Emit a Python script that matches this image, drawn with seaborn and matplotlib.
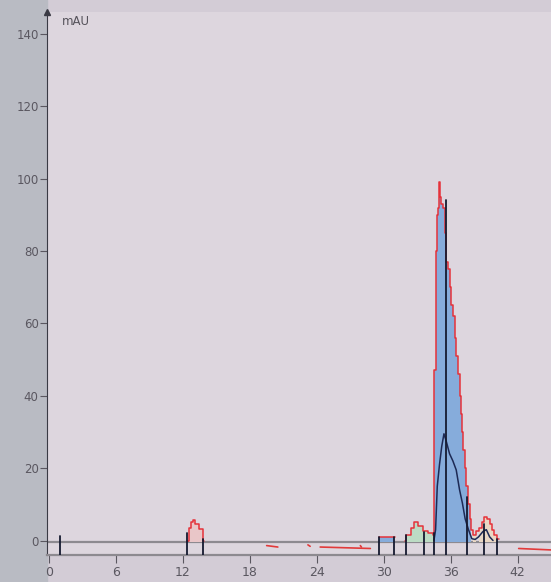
import numpy as np
import pandas as pd
import seaborn as sns
from matplotlib import pyplot as plt

# red trace (channel 1), stepped; NaN = no trace drawn
red_t = [12.4, 12.5, 12.7, 12.9, 13.1, 13.4, 13.8, 13.9,
         29.6, 30.9, 31.0,
         31.9, 32.0, 32.4, 32.7, 33.1, 33.5, 34.0, 34.4,
         34.55, 34.65, 34.75, 34.85, 34.95, 35.05, 35.15, 35.3, 35.45, 35.6,
         35.75, 35.9, 36.05, 36.2, 36.35, 36.5, 36.65, 36.8, 36.95, 37.05,
         37.15, 37.3, 37.4, 37.55, 37.7, 37.85, 38.0, 38.3, 38.5, 38.8,
         39.0, 39.3, 39.5, 39.7, 39.9, 40.2, 40.3]
red_v = [0, 3.5, 5.0, 5.8, 4.5, 3.2, 0, np.nan,
         1.0, 1.0, np.nan,
         0, 1.5, 3.5, 5.0, 4.0, 2.6, 2.0, 1.6,
         47, 80, 90, 92, 99, 95, 93, 92, 85, 77,
         75, 70, 65, 62, 56, 51, 46, 40, 35, 30,
         25, 20, 15, 10, 6, 3, 1.5, 2.5, 3.5, 5.0,
         6.6, 6.0, 4.5, 3.0, 1.5, 0.3, np.nan]

# dark trace (channel 2)
dark_t = [34.5, 34.65, 34.8, 35.0, 35.2, 35.4, 35.6, 35.9, 36.2, 36.5, 36.8,
          37.05, 37.3, 37.6, 37.9, 38.2, 38.5, 38.9, 39.2, 39.5, 39.8]
dark_v = [0, 3, 15, 21, 26, 29.5, 27.5, 24, 22, 19.5, 14,
          10.4, 6, 3, 0.5, 0.3, 1.0, 2.5, 3.0, 1.0, 0]

# integration windows (start, end, fill colour)
win_start = [12.5, 29.6, 32.0, 34.55, 37.9, 38.4]
win_end = [13.8, 30.9, 34.55, 37.9, 38.4, 40.2]
win_color = ['#e9c6c8', '#86acdb', '#bcdcc4', '#86acdb', '#ead8c4', '#ead8c4']

# peak markers
mark_t = [1.0, 12.4, 13.8, 29.6, 30.9, 32.0, 33.6, 34.55, 35.6, 37.5, 39.0, 40.2]
mark_top = [1.2, 2.0, 0.5, 1.0, 1.0, 1.5, 2.4, 2.0, 94, 12, 4.5, 0.5]

# red baseline fragments below zero
seg_t0 = [19.5, 23.2, 24.3, 27.9, 42.1]
seg_t1 = [20.5, 23.4, 28.8, 28.0, 45.0]
seg_v = [-1.8, -1.6, -2.2, -1.8, -2.6]

xticks = [0, 6, 12, 18, 24, 30, 36, 42]
yticks = [0, 20, 40, 60, 80, 100, 120, 140]

sns.set_style('white')
plt.rcParams['font.family'] = ['DejaVu Sans']

fig = plt.figure(figsize=(5.51, 5.82), dpi=100, facecolor='#d3ccd6')
fig.patches.append(plt.Rectangle((0, 0), 0.085, 1, transform=fig.transFigure,
                                 color='#b9bbc3', zorder=-1))
ax = fig.add_axes([0.0853, 0.0464, 0.9147, 0.9326])
ax.set_facecolor('#ddd6de')

red = pd.DataFrame({'t': red_t, 'v': red_v})
dark = pd.DataFrame({'t': dark_t, 'v': dark_v})

t_arr = np.array(red_t)
v_arr = np.nan_to_num(np.array(red_v))
for s, e, c in zip(win_start, win_end, win_color):
    m = (t_arr >= s) & (t_arr <= e)
    ax.fill_between(t_arr[m], -0.4, v_arr[m], step='post', color=c, lw=0, zorder=1)

# baselines
ax.axhline(-0.4, color='#8d8a90', lw=1.6, zorder=0.5)
for a, b, v in zip(seg_t0, seg_t1, seg_v):
    ax.plot([a, b], [v + 0.4, v], color='#e23a3a', lw=1.2, zorder=2)

ax.plot(red['t'], red['v'], color='#e5323a', lw=1.1, drawstyle='steps-post', zorder=3)
sns.lineplot(data=dark, x='t', y='v', ax=ax, color='#1d2a55', lw=1.1, zorder=4)

for t, top in zip(mark_t, mark_top):
    ax.plot([t, t], [-4, top], color='#151a30', lw=1.3, zorder=5)

ax.set_xlim(-0.2, 45.0)
ax.set_ylim(-4, 146)
ax.set_xticks(xticks)
ax.set_yticks(yticks)
ax.set_xlabel('')
ax.set_ylabel('')
for side in ['top', 'right']:
    ax.spines[side].set_visible(False)
ax.spines['left'].set_color('#3a3a44')
ax.spines['bottom'].set_color('#8d8a90')
ax.spines['bottom'].set_linewidth(1.6)
ax.tick_params(axis='y', left=True, length=5, width=0.8, colors='#5a5760',
               labelsize=8.5, pad=1)
ax.tick_params(axis='x', bottom=True, length=6, width=0.8, colors='#5a5760',
               labelsize=9, pad=2)
ax.plot([0], [1], marker='^', transform=ax.transAxes, color='#3a3a44',
        markersize=5, clip_on=False)
ax.text(0.03, 0.995, 'mAU', transform=ax.transAxes, fontsize=8.5,
        color='#55525a', va='top')

plt.savefig('out.png', dpi=100, facecolor=fig.get_facecolor())
